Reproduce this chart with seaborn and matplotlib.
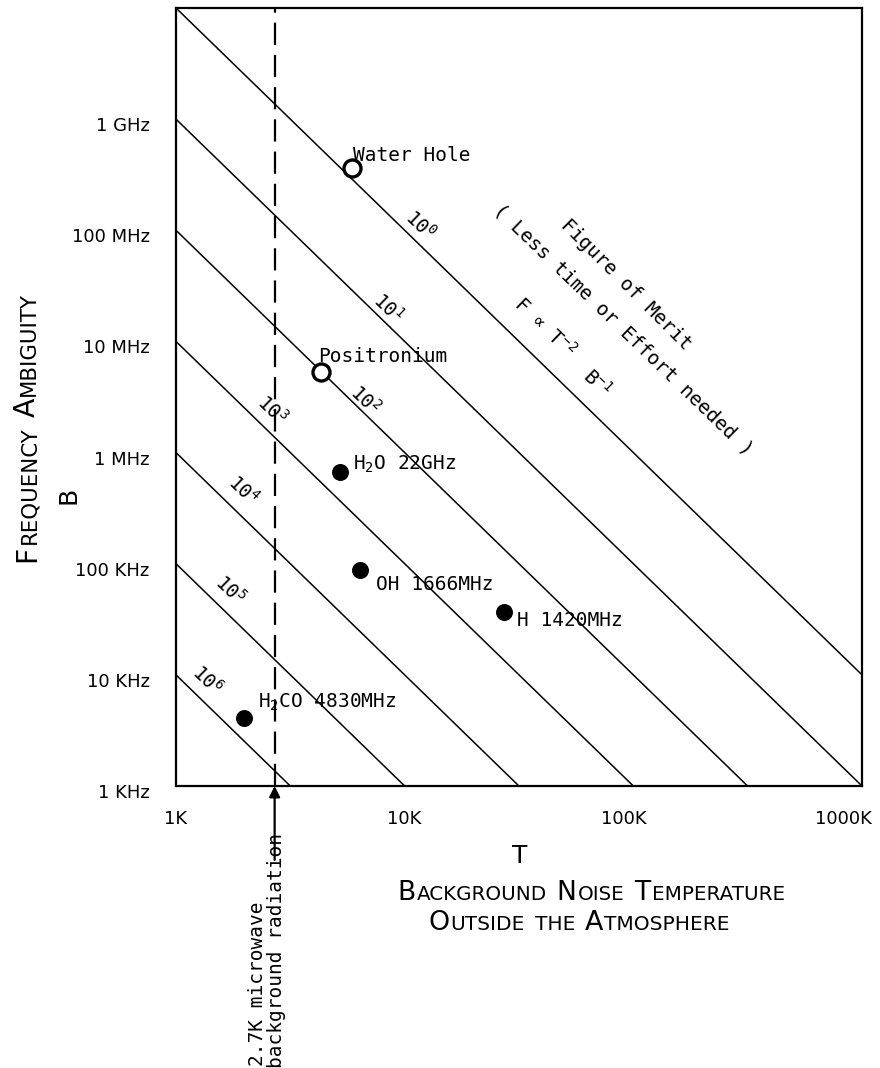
import matplotlib
matplotlib.use('Agg')
import matplotlib.pyplot as plt
from matplotlib.transforms import IdentityTransform, ScaledTranslation
import seaborn as sns
import pandas as pd

# iso-merit lines: start on the 1K edge, end on the frame
merit_exp = [0, 1, 2, 3, 4, 5, 6]
line_t_start = [1, 1, 1, 1, 1, 1, 1]
line_b_start = [1e10, 1e9, 1e8, 1e7, 1e6, 1e5, 1e4]
line_t_end = [1000, 1000, 316, 100, 31.6, 10, 3.16]
line_b_end = [1e4, 1e3, 1e3, 1e3, 1e3, 1e3, 1e3]

# marked lines (T in K, B in Hz)
source_names = ['Water Hole', 'Positronium', 'H$_2$O 22GHz', 'OH 1666MHz',
                'H 1420MHz', 'H$_2$CO 4830MHz']
source_t = [5.9, 4.3, 5.2, 6.4, 27.3, 1.98]
source_b = [3.6e8, 5.3e6, 6.7e5, 8.8e4, 3.7e4, 4.1e3]
source_open = [True, True, False, False, False, False]

cmb_t = 2.7

x_ticks = [1, 10, 100, 1000]
x_labels = ['1K', '10K', '100K', '1000K']
y_ticks = [1e3, 1e4, 1e5, 1e6, 1e7, 1e8, 1e9]
y_labels = ['1 KHz', '10 KHz', '100 KHz', '1 MHz', '10 MHz', '100 MHz', '1 GHz']

sns.set_theme(style='white')
plt.rcParams['font.family'] = ['DejaVu Sans Mono', 'DejaVu Sans']
plt.rcParams['text.color'] = 'black'
plt.rcParams['axes.labelcolor'] = 'black'
plt.rcParams['mathtext.fontset'] = 'custom'
plt.rcParams['mathtext.rm'] = 'DejaVu Sans Mono'
plt.rcParams['mathtext.it'] = 'DejaVu Sans Mono'
plt.rcParams['mathtext.bf'] = 'DejaVu Sans Mono:bold'

TW = 14  # typewriter text size


def small_caps(fig, x, y, text, big, small, rotation=0, length=None):
    """Fake small caps: capitals big, lower case as small capitals."""
    r = fig.canvas.get_renderer()

    def draw(b, s):
        texts, pos = [], 0.0
        for word in text.split(' '):
            runs = []
            for ch in word:
                if runs and runs[-1][0].isupper() == ch.isupper():
                    runs[-1] += ch
                else:
                    runs.append(ch)
            for run in runs:
                size = b if run[0].isupper() else s
                px, py = (x + pos, y) if rotation == 0 else (x, y + pos)
                t = fig.text(px, py, run.upper(), fontsize=size, rotation=rotation,
                             rotation_mode='anchor', ha='left', va='baseline',
                             transform=IdentityTransform(), family='DejaVu Sans',
                             color='black')
                bb = t.get_window_extent(r)
                pos += (bb.width if rotation == 0 else bb.height) + 1.5
                texts.append(t)
            pos += s * 0.4 * 100 / 72
        return texts, pos - s * 0.4 * 100 / 72 - 1.5

    texts, total = draw(big, small)
    if length:
        for t in texts:
            t.remove()
        k = length / total
        draw(big * k, small * k)


fig = plt.figure(figsize=(8.8, 10.68), dpi=100)
ax = fig.add_axes([176 / 880, 1 - 786 / 1068, 686 / 880, 778 / 1068])
ax.set_xscale('log')
ax.set_yscale('log')

lines = pd.DataFrame({
    'T': line_t_start + line_t_end,
    'B': line_b_start + line_b_end,
    'merit': merit_exp + merit_exp,
})
sns.lineplot(data=lines, x='T', y='B', units='merit', estimator=None, sort=False,
             color='black', lw=1.1, ax=ax, legend=False)

src = pd.DataFrame({'T': source_t, 'B': source_b, 'open': source_open})
sns.scatterplot(data=src[src['open']], x='T', y='B', s=150, color='white',
                edgecolor='black', linewidth=2.4, ax=ax, zorder=5)
sns.scatterplot(data=src[~src['open']], x='T', y='B', s=125, color='black',
                edgecolor='black', linewidth=1, ax=ax, zorder=5)

# label offsets in pixels from the marker (left edge / baseline of the text)
offsets = [(1, 7), (-3, 10), (13, 2), (16, -20), (13, -14), (14, 10)]
for name, t, b, off in zip(source_names, source_t, source_b, offsets):
    ax.annotate(name, (t, b), xytext=off, textcoords='offset pixels',
                ha='left', va='baseline', fontsize=TW, zorder=6)

# merit labels, along the lines
merit_pos = [(0.356, 0.721), (0.309, 0.614), (0.2755, 0.496), (0.140, 0.483),
             (0.0977, 0.380), (0.0787, 0.252), (0.045, 0.136)]
for e, (px, py) in zip(merit_exp, merit_pos):
    ax.text(px, py, '10$^{%d}$' % e, transform=ax.transAxes, rotation=-44,
            ha='center', va='center', fontsize=TW)

ax.text(0.656, 0.645, 'Figure of Merit', transform=ax.transAxes, rotation=-45,
        ha='center', va='center', fontsize=TW)
ax.text(0.652, 0.586, '( Less time or Effort needed )', transform=ax.transAxes,
        rotation=-44, ha='center', va='center', fontsize=TW)
ax.text(0.538, 0.590, 'F ∝ T$^{-2}$', transform=ax.transAxes, rotation=-44,
        ha='center', va='center', fontsize=TW)
ax.text(0.614, 0.518, 'B$^{-1}$', transform=ax.transAxes, rotation=-44,
        ha='center', va='center', fontsize=TW)

# 2.7K background line and arrow
ax.axvline(cmb_t, color='black', lw=1.6, dashes=(10, 4.5))
ax.annotate('', xy=(cmb_t, 0), xycoords=('data', 'axes fraction'),
            xytext=(cmb_t, -0.095), textcoords=('data', 'axes fraction'),
            arrowprops=dict(arrowstyle='-|>', color='black', lw=1.6,
                            mutation_scale=16, shrinkA=0, shrinkB=0),
            annotation_clip=False)
fig.text(257 / 880, 2 / 1068, '2.7K microwave', rotation=90, ha='center',
         va='bottom', fontsize=TW)
fig.text(277 / 880, 0 / 1068, 'background radiation', rotation=90, ha='center',
         va='bottom', fontsize=TW)

ax.set_xlim(1, 1000)
ax.set_ylim(1e3, 1e10)
ax.set_xticks(x_ticks, x_labels, family='DejaVu Sans', fontsize=13)
ax.set_yticks(y_ticks, y_labels, family='DejaVu Sans', fontsize=13)
ax.minorticks_off()
ax.tick_params(axis='both', direction='in', length=3, width=2.5, color='black',
               labelcolor='black')
ax.tick_params(axis='y', pad=19)
ax.tick_params(axis='x', pad=17)
ax.set_xlabel('')
ax.set_ylabel('')
for sp in ax.spines.values():
    sp.set_color('black')
    sp.set_linewidth(1.6)

# nudge tick labels the way they sit on the original
for lbl in ax.get_yticklabels():
    lbl.set_transform(lbl.get_transform() + ScaledTranslation(0, -0.05, fig.dpi_scale_trans))
xl = ax.get_xticklabels()
xl[2].set_transform(xl[2].get_transform() + ScaledTranslation(-0.10, 0, fig.dpi_scale_trans))
xl[3].set_ha('right')
xl[3].set_transform(xl[3].get_transform() + ScaledTranslation(0.10, 0, fig.dpi_scale_trans))

# axis titles in small caps (display pixels, origin bottom left)
H = 1068
small_caps(fig, 35, H - 562, 'Frequency Ambiguity', 18, 13.5, rotation=90, length=270)
fig.text(68, H - 495, 'B', rotation=90, ha='center', va='center', fontsize=18,
         family='DejaVu Sans', transform=IdentityTransform())
fig.text(520, H - 856, 'T', ha='center', va='center', fontsize=18,
         family='DejaVu Sans', transform=IdentityTransform())
small_caps(fig, 397, H - 900, 'Background Noise Temperature', 18, 13.5, length=388)
small_caps(fig, 428, H - 930, 'Outside the Atmosphere', 18, 13.5, length=302)

fig.savefig('out.png', dpi=100)
